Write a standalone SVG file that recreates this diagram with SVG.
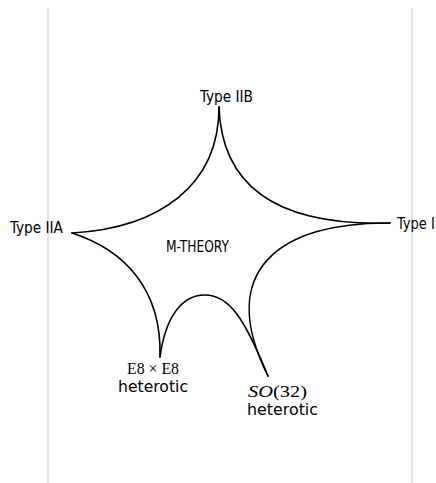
<svg xmlns="http://www.w3.org/2000/svg" width="436" height="483" viewBox="0 0 436 483">
  <style>
    .frame { stroke: #c8c8c8; stroke-width: 1; fill: none; }
    .edge { stroke: #000; stroke-width: 1.6; fill: none; stroke-linecap: round; }
    .lbl { font-family: "DejaVu Sans Condensed", "DejaVu Sans", sans-serif; font-size: 15.5px; fill: #000; }
    .math { font-family: "Liberation Serif", serif; font-size: 17px; fill: #000; }
  </style>
  <rect width="436" height="483" fill="#fff"/>
  <line class="frame" x1="48" y1="8" x2="48" y2="483"/>
  <line class="frame" x1="412" y1="8" x2="412" y2="483"/>

  <g id="connectors">
    <!-- Type IIB to Type IIA -->
    <path class="edge" d="M219,107 C219,185 160,228 72,233"/>
    <!-- Type IIB to Type I -->
    <path class="edge" d="M219,107 C222,195 290,226 390,223"/>
    <!-- Type I to SO(32) -->
    <path class="edge" d="M390,223 C280,222 215,270 268,376"/>
    <!-- SO(32) to E8 x E8 over the central hump -->
    <path class="edge" d="M268,376 C245,320 230,295 205,295 C180,295 165,320 160,357"/>
    <!-- E8 x E8 to Type IIA -->
    <path class="edge" d="M160,357 C162,290 125,250 72,233"/>
  </g>

  <g id="node-iib"><text class="lbl" x="200" y="102" textLength="53" lengthAdjust="spacingAndGlyphs">Type IIB</text></g>
  <g id="node-iia"><text class="lbl" x="10" y="233" textLength="53" lengthAdjust="spacingAndGlyphs">Type IIA</text></g>
  <g id="node-i"><text class="lbl" x="397" y="229" textLength="38" lengthAdjust="spacingAndGlyphs">Type I</text></g>
  <g id="node-m"><text class="lbl" x="166" y="252" textLength="63" lengthAdjust="spacingAndGlyphs">M-THEORY</text></g>
  <g id="node-e8">
    <text class="math" x="127" y="374" textLength="52" lengthAdjust="spacingAndGlyphs">E8 × E8</text>
    <text class="lbl" x="118" y="392" textLength="70" lengthAdjust="spacingAndGlyphs">heterotic</text>
  </g>
  <g id="node-so32">
    <text class="math" x="248" y="397" textLength="59" lengthAdjust="spacingAndGlyphs"><tspan font-style="italic">SO</tspan>(32)</text>
    <text class="lbl" x="247" y="415" textLength="71" lengthAdjust="spacingAndGlyphs">heterotic</text>
  </g>
</svg>
